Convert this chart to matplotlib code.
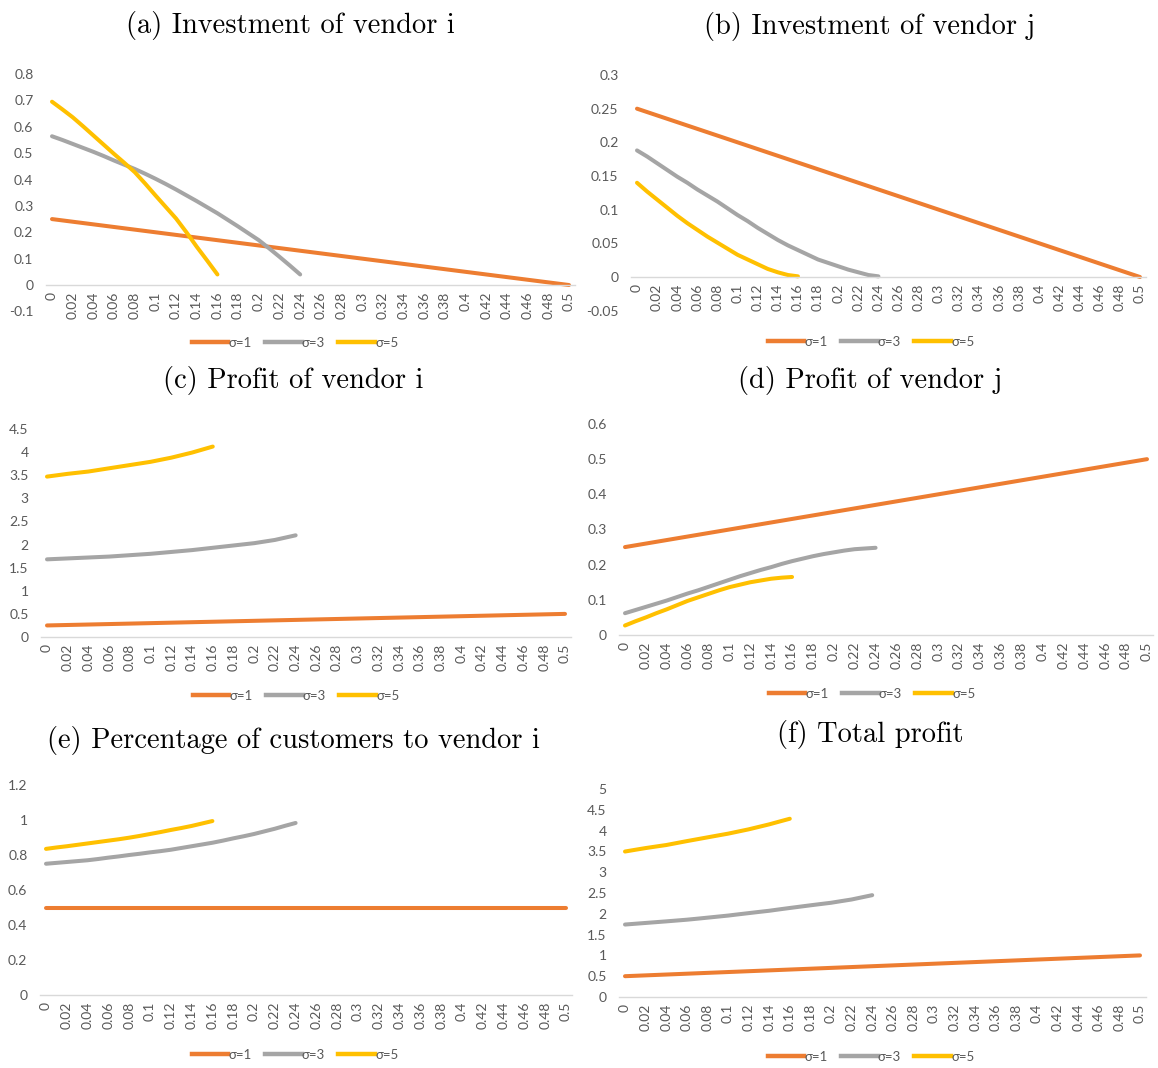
import matplotlib
matplotlib.use("Agg")
import matplotlib.pyplot as plt
from matplotlib.lines import Line2D

# Category axis: the parameter alpha from 0 to 0.5 in steps of 0.01
alpha = [0.00, 0.01, 0.02, 0.03, 0.04, 0.05, 0.06, 0.07, 0.08, 0.09,
         0.10, 0.11, 0.12, 0.13, 0.14, 0.15, 0.16, 0.17, 0.18, 0.19,
         0.20, 0.21, 0.22, 0.23, 0.24, 0.25, 0.26, 0.27, 0.28, 0.29,
         0.30, 0.31, 0.32, 0.33, 0.34, 0.35, 0.36, 0.37, 0.38, 0.39,
         0.40, 0.41, 0.42, 0.43, 0.44, 0.45, 0.46, 0.47, 0.48, 0.49, 0.50]

series_labels = ["σ=1", "σ=3", "σ=5"]

# (a) Investment of vendor i
inv_i_s1 = [0.250, 0.245, 0.240, 0.235, 0.230, 0.225, 0.220, 0.215, 0.210, 0.205,
            0.200, 0.195, 0.190, 0.185, 0.180, 0.175, 0.170, 0.165, 0.160, 0.155,
            0.150, 0.145, 0.140, 0.135, 0.130, 0.125, 0.120, 0.115, 0.110, 0.105,
            0.100, 0.095, 0.090, 0.085, 0.080, 0.075, 0.070, 0.065, 0.060, 0.055,
            0.050, 0.045, 0.040, 0.035, 0.030, 0.025, 0.020, 0.015, 0.010, 0.005, 0.000]
inv_i_s3 = [0.564, 0.550, 0.535, 0.520, 0.505, 0.489, 0.472, 0.456, 0.440, 0.422,
            0.403, 0.383, 0.362, 0.340, 0.318, 0.295, 0.272, 0.247, 0.222, 0.196,
            0.170, 0.139, 0.107, 0.074, 0.040]
inv_i_s5 = [0.695, 0.666, 0.636, 0.602, 0.567, 0.532, 0.497, 0.463, 0.428, 0.385,
            0.340, 0.296, 0.252, 0.200, 0.145, 0.093, 0.040]

# (b) Investment of vendor j
inv_j_s1 = [0.250, 0.245, 0.240, 0.235, 0.230, 0.225, 0.220, 0.215, 0.210, 0.205,
            0.200, 0.195, 0.190, 0.185, 0.180, 0.175, 0.170, 0.165, 0.160, 0.155,
            0.150, 0.145, 0.140, 0.135, 0.130, 0.125, 0.120, 0.115, 0.110, 0.105,
            0.100, 0.095, 0.090, 0.085, 0.080, 0.075, 0.070, 0.065, 0.060, 0.055,
            0.050, 0.045, 0.040, 0.035, 0.030, 0.025, 0.020, 0.015, 0.010, 0.005, 0.000]
inv_j_s3 = [0.188, 0.179, 0.169, 0.159, 0.149, 0.140, 0.130, 0.121, 0.112, 0.102,
            0.092, 0.083, 0.073, 0.064, 0.055, 0.047, 0.040, 0.033, 0.026, 0.021,
            0.016, 0.011, 0.007, 0.003, 0.001]
inv_j_s5 = [0.140, 0.127, 0.115, 0.103, 0.091, 0.080, 0.070, 0.060, 0.051, 0.042,
            0.033, 0.026, 0.019, 0.012, 0.007, 0.003, 0.001]

# (c) Profit of vendor i
prof_i_s1 = [0.250, 0.255, 0.260, 0.265, 0.270, 0.275, 0.280, 0.285, 0.290, 0.295,
             0.300, 0.305, 0.310, 0.315, 0.320, 0.325, 0.330, 0.335, 0.340, 0.345,
             0.350, 0.355, 0.360, 0.365, 0.370, 0.375, 0.380, 0.385, 0.390, 0.395,
             0.400, 0.405, 0.410, 0.415, 0.420, 0.425, 0.430, 0.435, 0.440, 0.445,
             0.450, 0.455, 0.460, 0.465, 0.470, 0.475, 0.480, 0.485, 0.490, 0.495, 0.500]
prof_i_s3 = [1.680, 1.690, 1.700, 1.710, 1.720, 1.730, 1.740, 1.755, 1.770, 1.785,
             1.800, 1.820, 1.840, 1.860, 1.880, 1.905, 1.930, 1.955, 1.980, 2.005,
             2.030, 2.065, 2.100, 2.150, 2.200]
prof_i_s5 = [3.470, 3.500, 3.530, 3.555, 3.580, 3.615, 3.650, 3.685, 3.720, 3.755,
             3.790, 3.835, 3.880, 3.935, 3.990, 4.055, 4.120]

# (d) Profit of vendor j
prof_j_s1 = [0.250, 0.255, 0.260, 0.265, 0.270, 0.275, 0.280, 0.285, 0.290, 0.295,
             0.300, 0.305, 0.310, 0.315, 0.320, 0.325, 0.330, 0.335, 0.340, 0.345,
             0.350, 0.355, 0.360, 0.365, 0.370, 0.375, 0.380, 0.385, 0.390, 0.395,
             0.400, 0.405, 0.410, 0.415, 0.420, 0.425, 0.430, 0.435, 0.440, 0.445,
             0.450, 0.455, 0.460, 0.465, 0.470, 0.475, 0.480, 0.485, 0.490, 0.495, 0.500]
prof_j_s3 = [0.062, 0.071, 0.080, 0.089, 0.098, 0.108, 0.118, 0.127, 0.137, 0.147,
             0.157, 0.167, 0.176, 0.185, 0.193, 0.202, 0.210, 0.217, 0.224, 0.230,
             0.235, 0.240, 0.244, 0.246, 0.248]
prof_j_s5 = [0.027, 0.039, 0.050, 0.062, 0.073, 0.085, 0.097, 0.107, 0.117, 0.127,
             0.136, 0.143, 0.150, 0.155, 0.160, 0.163, 0.165]

# (e) Percentage of customers to vendor i
share_i_s1 = [0.5] * 51
share_i_s3 = [0.750, 0.755, 0.760, 0.765, 0.770, 0.777, 0.785, 0.792, 0.800, 0.807,
              0.815, 0.822, 0.830, 0.840, 0.850, 0.860, 0.870, 0.882, 0.895, 0.907,
              0.920, 0.935, 0.950, 0.967, 0.983]
share_i_s5 = [0.835, 0.843, 0.850, 0.858, 0.866, 0.874, 0.882, 0.890, 0.899, 0.909,
              0.920, 0.931, 0.943, 0.954, 0.966, 0.980, 0.994]

# (f) Total profit
total_s1 = [0.50, 0.51, 0.52, 0.53, 0.54, 0.55, 0.56, 0.57, 0.58, 0.59,
            0.60, 0.61, 0.62, 0.63, 0.64, 0.65, 0.66, 0.67, 0.68, 0.69,
            0.70, 0.71, 0.72, 0.73, 0.74, 0.75, 0.76, 0.77, 0.78, 0.79,
            0.80, 0.81, 0.82, 0.83, 0.84, 0.85, 0.86, 0.87, 0.88, 0.89,
            0.90, 0.91, 0.92, 0.93, 0.94, 0.95, 0.96, 0.97, 0.98, 0.99, 1.00]
total_s3 = [1.742, 1.761, 1.780, 1.799, 1.818, 1.838, 1.858, 1.882, 1.907, 1.932,
            1.957, 1.987, 2.016, 2.045, 2.073, 2.107, 2.140, 2.172, 2.204, 2.235,
            2.265, 2.305, 2.344, 2.396, 2.448]
total_s5 = [3.497, 3.539, 3.580, 3.617, 3.653, 3.700, 3.747, 3.792, 3.837, 3.882,
            3.926, 3.978, 4.030, 4.090, 4.150, 4.218, 4.285]

W, H = 1158, 1068
fig = plt.figure(figsize=(W / 100, H / 100), dpi=100)
fig.patch.set_facecolor("white")

TICK_FONT = ["Lato", "DejaVu Sans"]
TICK_COLOR = "#595959"
LINE_COLORS = ["#ED7D31", "#A5A5A5", "#FFC000"]
AXIS_COLOR = "#D9D9D9"


def fmt(v):
    s = f"{v:g}"
    return "0" if s in ("-0", "0") else s


def panel(title, series, x0, x1, ytop, ybot, ylim, yticks, title_pos, legend_pos):
    """Excel-style line chart; x0/x1/ytop/ybot are pixel positions of the plot area."""
    ppu = (x1 - x0) / 0.5
    ext = 6
    left, right = x0 - ext, x1 + ext
    ax = fig.add_axes([left / W, 1 - ybot / H, (right - left) / W, (ybot - ytop) / H])
    ax.set_facecolor("none")
    for s in ("top", "right", "left"):
        ax.spines[s].set_visible(False)
    ax.spines["bottom"].set_position(("data", 0))
    ax.spines["bottom"].set_color(AXIS_COLOR)
    ax.spines["bottom"].set_linewidth(1.0)
    for vals, col in zip(series, LINE_COLORS):
        ax.plot(alpha[:len(vals)], vals, color=col, lw=2.9,
                solid_capstyle="round", solid_joinstyle="round", clip_on=False)
    ax.set_xlim(-ext / ppu, 0.5 + ext / ppu)
    ax.set_ylim(*ylim)
    ax.tick_params(axis="both", length=0, labelsize=10, labelcolor=TICK_COLOR)
    ax.tick_params(axis="y", pad=9)
    ax.tick_params(axis="x", pad=5)
    ax.set_yticks(yticks)
    ax.set_yticklabels([fmt(v) for v in yticks], fontfamily=TICK_FONT)
    xt = alpha[::2]
    ax.set_xticks(xt)
    ax.set_xticklabels([fmt(v) for v in xt], rotation=90, fontfamily=TICK_FONT,
                       ha="center", va="top")
    fig.text(title_pos[0] / W, 1 - title_pos[1] / H, title, ha="center", va="baseline",
             fontfamily="cmr10", fontsize=20.5, color="black")
    handles = [Line2D([], [], color=c, lw=3.2) for c in LINE_COLORS]
    fig.legend(handles, series_labels, loc="center",
               bbox_to_anchor=(legend_pos[0] / W, 1 - legend_pos[1] / H),
               ncol=3, frameon=False, handlelength=2.8, handletextpad=0.0,
               columnspacing=1.0, prop={"family": TICK_FONT, "size": 9.5},
               labelcolor=TICK_COLOR, borderaxespad=0, borderpad=0)
    return ax


panel("(a) Investment of vendor i", [inv_i_s1, inv_i_s3, inv_i_s5],
      52, 569, 74, 311.4, (-0.1, 0.8),
      [-0.1, 0.0, 0.1, 0.2, 0.3, 0.4, 0.5, 0.6, 0.7, 0.8], (290, 33), (295, 343))

panel("(b) Investment of vendor j", [inv_j_s1, inv_j_s3, inv_j_s5],
      637, 1140, 75, 310.7, (-0.05, 0.3),
      [-0.05, 0.0, 0.05, 0.1, 0.15, 0.2, 0.25, 0.3], (870, 34), (871, 342))

panel("(c) Profit of vendor i", [prof_i_s1, prof_i_s3, prof_i_s5],
      47, 565, 429, 637, (0, 4.5),
      [0, 0.5, 1, 1.5, 2, 2.5, 3, 3.5, 4, 4.5], (293, 388), (296, 696))

panel("(d) Profit of vendor j", [prof_j_s1, prof_j_s3, prof_j_s5],
      625, 1147, 424, 635, (0, 0.6),
      [0, 0.1, 0.2, 0.3, 0.4, 0.5, 0.6], (870, 388), (872, 694))

panel("(e) Percentage of customers to vendor i", [share_i_s1, share_i_s3, share_i_s5],
      46, 566, 785, 995, (0, 1.2),
      [0, 0.2, 0.4, 0.6, 0.8, 1, 1.2], (293, 748), (295, 1055))

panel("(f) Total profit", [total_s1, total_s3, total_s5],
      625, 1140, 789, 997, (0, 5),
      [0, 0.5, 1, 1.5, 2, 2.5, 3, 3.5, 4, 4.5, 5], (870, 742), (871, 1057))

fig.savefig("out.png", dpi=100, facecolor="white")
